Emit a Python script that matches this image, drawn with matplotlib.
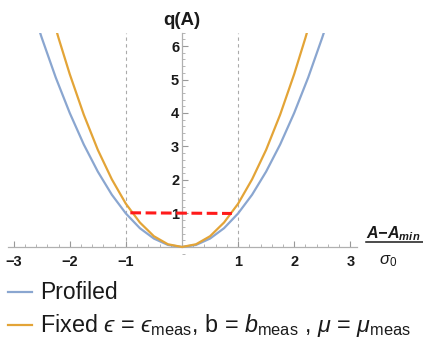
import matplotlib
matplotlib.use("Agg")
import matplotlib.pyplot as plt
from matplotlib.ticker import MultipleLocator

plt.rcParams['font.family'] = ['Liberation Sans', 'DejaVu Sans']
plt.rcParams['mathtext.fontset'] = 'custom'
plt.rcParams['mathtext.rm'] = 'Liberation Sans'
plt.rcParams['mathtext.it'] = 'Liberation Sans:italic'
plt.rcParams['mathtext.bf'] = 'Liberation Sans:bold:italic'

# profiled curve
prof_x = [-2.6, -2.5, -2.25, -2.0, -1.75, -1.5, -1.25, -1.0, -0.75, -0.5, -0.25, 0.0,
          0.25, 0.5, 0.75, 1.0, 1.25, 1.5, 1.75, 2.0, 2.25, 2.5, 2.6]
prof_q = [6.76, 6.25, 5.06, 4.0, 3.06, 2.25, 1.56, 1.0, 0.56, 0.25, 0.06, 0.0,
          0.06, 0.25, 0.56, 1.0, 1.56, 2.25, 3.06, 4.0, 5.06, 6.25, 6.76]
# fixed nuisance curve
fixed_x = [-2.3, -2.2, -2.0, -1.75, -1.5, -1.25, -1.0, -0.75, -0.5, -0.25, 0.0,
           0.25, 0.5, 0.75, 1.0, 1.25, 1.5, 1.75, 2.0, 2.2, 2.3]
fixed_q = [6.82, 6.24, 5.16, 3.95, 2.90, 2.02, 1.29, 0.73, 0.32, 0.08, 0.0,
           0.08, 0.32, 0.73, 1.29, 2.02, 2.90, 3.95, 5.16, 6.24, 6.82]
# red interval at q = 1
red_x = [-0.92, 0.89]
red_q = [1.02, 1.0]
sigma_x = [-1, 1]
x_ticks = [-3, -2, -1, 1, 2, 3]
x_labels = ['\u22123', '\u22122', '\u22121', '1', '2', '3']
y_ticks = [1, 2, 3, 4, 5, 6]
y_labels = ['1', '2', '3', '4', '5', '6']

blue = '#8aa6d0'
orange = '#e3a437'
dark = '#1a1a1a'

fig = plt.figure(figsize=(4.23, 3.47), dpi=100)
ax = fig.add_axes([0.019, 0.269, 0.825, 0.637])
ax.set_xlim(-3.1, 3.12)
ax.set_ylim(-0.2, 6.4)

for xv in sigma_x:
    ax.plot([xv, xv], [0, 6.4], color='#aaaaaa', lw=0.8, ls=(0, (3, 3)), zorder=1)

ax.plot(prof_x, prof_q, color=blue, lw=1.6, zorder=3)
ax.plot(fixed_x, fixed_q, color=orange, lw=1.6, zorder=4)
ax.plot(red_x, red_q, color='#ff1a1a', lw=2.2, ls=(0, (3.5, 1.5)), zorder=5)

for s in ['top', 'right']:
    ax.spines[s].set_visible(False)
ax.spines['left'].set_position(('data', 0))
ax.spines['bottom'].set_position(('data', 0))
ax.spines['left'].set_bounds(0, 6.4)
for s in ['left', 'bottom']:
    ax.spines[s].set_color('#b0b0b0')
    ax.spines[s].set_linewidth(0.9)

ax.set_xticks(x_ticks, x_labels, fontweight='bold', fontsize=10.5, color=dark)
ax.set_yticks(y_ticks, y_labels, fontweight='bold', fontsize=10.5, color=dark)
ax.xaxis.set_minor_locator(MultipleLocator(0.2))
ax.yaxis.set_minor_locator(MultipleLocator(0.2))
ax.tick_params(which='major', direction='in', length=4, width=0.8, color='#999999', pad=6)
ax.tick_params(which='minor', direction='in', length=2, width=0.6, color='#aaaaaa')
ax.tick_params(axis='y', pad=2)

fig.text(0.43, 0.942, 'q(A)', fontsize=13.5, fontweight='bold', ha='center', va='center',
         color=dark)

# x label as a fraction
fig.text(0.866, 0.326, r'$\mathbf{A{-}A_{min}}$', fontsize=11.5,
         ha='left', va='center', color=dark)
fig.add_artist(plt.Line2D([0.866, 1.0], [0.302, 0.302], color=dark, lw=1.1))
fig.text(0.917, 0.246, r'$\sigma_0$', fontsize=12, ha='center', va='center', color=dark)

# legend
fig.add_artist(plt.Line2D([0.019, 0.076], [0.158, 0.158], color=blue, lw=1.6))
fig.text(0.095, 0.158, 'Profiled', fontsize=16.5, ha='left', va='center', color=dark)
fig.add_artist(plt.Line2D([0.019, 0.076], [0.063, 0.063], color=orange, lw=1.6))
fig.text(0.095, 0.063,
         'Fixed $ϵ$ = $ϵ_{\\rm meas}$, b = $b_{\\rm meas}$ , $\\mu$ = $\\mu_{\\rm meas}$',
         fontsize=16.8, ha='left', va='center', color=dark)

fig.savefig('out.png', dpi=100)
